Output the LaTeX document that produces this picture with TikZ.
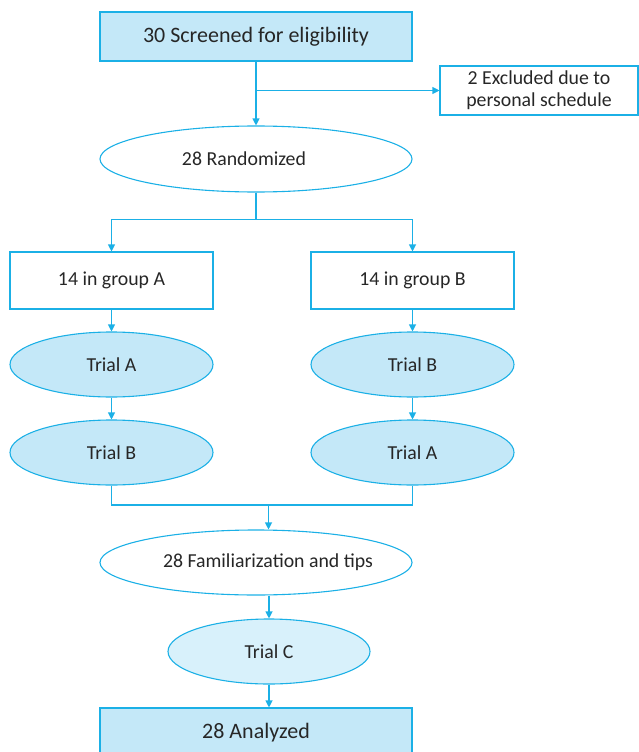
\documentclass[tikz,border=0pt]{standalone}
\usepackage{fontspec}
\setmainfont{Carlito}
\usetikzlibrary{shapes.geometric,arrows.meta}
\definecolor{flowline}{HTML}{1BB0E6}
\definecolor{flowfill}{HTML}{C4E8F8}
\definecolor{flowpale}{HTML}{D8F1FB}
\tikzset{
  box/.style={draw=flowline, rectangle, align=center, inner sep=0pt},
  oval/.style={draw=flowline, ellipse, align=center, inner sep=0pt},
  bigtext/.style={font=\fontsize{22}{26}\selectfont},
}
\begin{document}
\begin{tikzpicture}[x=1pt, y=-1pt, line width=1.1pt, draw=flowline,
    >={Triangle[length=7pt,width=7pt]}, font=\fontsize{19.8}{22}\selectfont, text=black!85]
                  \useasboundingbox (0,0) rectangle (639,752);
                  % Screening
                  \node [box, bigtext, fill=flowfill, minimum width=312pt, minimum height=49pt] (screen) at (256,36.5) {30 Screened for eligibility};
                  \node [box, minimum width=198pt, minimum height=49pt] (excl) at (539,90.5) {2 Excluded due to\\personal schedule};
                  \node [oval, minimum width=312pt, minimum height=66pt] (rand) at (256,159) {\makebox[0pt]{28 Randomized\hspace*{24pt}}};

                  % Groups
                  \node [box, minimum width=203pt, minimum height=57pt] (grpA) at (111.5,280.5) {14 in group A};
                  \node [box, minimum width=203pt, minimum height=57pt] (grpB) at (412.5,280.5) {14 in group B};
                  \node [oval, fill=flowfill, minimum width=203pt, minimum height=65pt] (trialA1) at (111.5,364.5) {Trial A};
                  \node [oval, fill=flowfill, minimum width=203pt, minimum height=65pt] (trialB1) at (111.5,452.5) {Trial B};
                  \node [oval, fill=flowfill, minimum width=203pt, minimum height=65pt] (trialB2) at (412.5,364.5) {Trial B};
                  \node [oval, fill=flowfill, minimum width=203pt, minimum height=65pt] (trialA2) at (412.5,452.5) {Trial A};

                  % Final steps
                  \node [oval, minimum width=312pt, minimum height=65pt] (famil) at (256,562.5) {\makebox[0pt]{\hspace*{24pt}28 Familiarization and tips}};
                  \node [oval, fill=flowpale, minimum width=202pt, minimum height=65pt] (trialC) at (269,651.5) {Trial C};
                  \node [box, bigtext, fill=flowfill, minimum width=312pt, minimum height=49pt] (analyzed) at (256,732.5) {28 Analyzed};
                  \coordinate (join) at (268.5,505);

                  % Arrows
                  \draw [->] (screen) -- (rand);
                  \draw [->] (screen.south |- excl.west) -- (excl.west);
                  \draw [->] (rand.south) -- ++(0,27) -| (grpA);
                  \draw [->] (rand.south) -- ++(0,27) -| (grpB);
                  \draw [->] (grpA) -- (trialA1);
                  \draw [->] (trialA1) -- (trialB1);
                  \draw [->] (grpB) -- (trialB2);
                  \draw [->] (trialB2) -- (trialA2);
                  \draw (trialB1.south) |- (join) -| (trialA2.south);
                  \draw [->] (join) -- (join |- famil.north);
                  \draw [->] (trialC.north |- famil.south) -- (trialC.north);
                  \draw [->] (trialC) -- (trialC.south |- analyzed.north);
              \end{tikzpicture}
\end{document}
